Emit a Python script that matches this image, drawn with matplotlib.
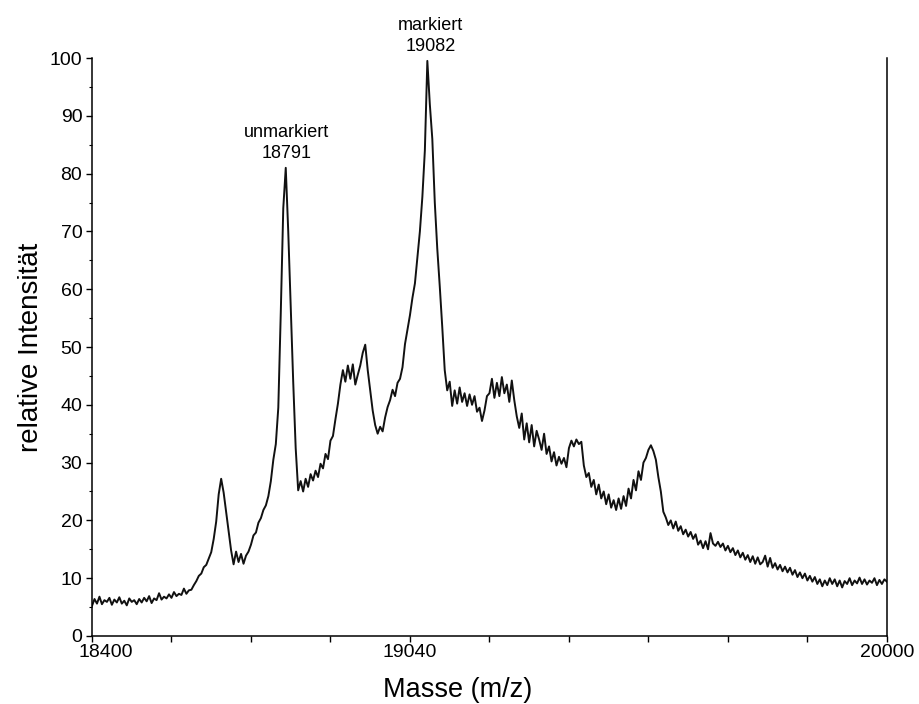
import numpy as np
import matplotlib
matplotlib.use("Agg")
import matplotlib.pyplot as plt
from matplotlib.ticker import MultipleLocator, FixedLocator, FixedFormatter
from matplotlib.transforms import ScaledTranslation

plt.rcParams['font.family'] = ['Liberation Sans', 'DejaVu Sans']

mass = np.arange(18400, 20001, 5)
intensity = [
    # 18400
    5.2, 6.4, 5.6, 6.8, 5.5, 6.2, 5.9, 6.6, 5.4, 6.3, 5.8, 6.7, 5.6, 6.1, 5.3, 6.5, 5.9, 6.2, 5.5, 6.4,
    # 18500
    5.8, 6.6, 6.0, 6.9, 5.7, 6.5, 6.2, 7.4, 6.3, 6.8, 6.5, 7.2, 6.6, 7.6, 6.9, 7.3, 7.1, 8.2, 7.3, 7.9,
    # 18600
    8.0, 8.8, 9.5, 10.4, 10.8, 11.9, 12.3, 13.4, 14.5, 16.8, 19.8, 24.5, 27.2, 24.8, 21.5, 18.2, 14.8, 12.4, 14.6, 12.8,
    # 18700
    14.2, 12.5, 13.9, 14.6, 15.8, 17.4, 17.9, 19.6, 20.4, 21.8, 22.6, 24.2, 26.8, 30.5, 33.2, 39.5, 56.0, 74.0, 81.0, 70.0,
    # 18800
    57.0, 44.0, 32.5, 25.2, 26.8, 25.0, 27.2, 25.8, 28.0, 26.9, 28.6, 27.5, 29.8, 29.0, 31.5, 30.6, 33.8, 34.6, 37.5, 40.2,
    # 18900
    43.5, 46.0, 44.0, 46.8, 44.5, 47.0, 43.5, 45.2, 46.8, 49.0, 50.4, 46.0, 42.5, 39.0, 36.5, 35.0, 36.2, 35.4, 37.8, 39.6,
    # 19000
    40.8, 42.6, 41.5, 43.8, 44.5, 46.5, 50.5, 53.0, 55.5, 58.5, 61.0, 65.5, 70.0, 76.0, 84.0, 99.5, 92.0, 86.0, 75.0, 67.0,
    # 19100
    60.5, 53.5, 46.0, 42.5, 44.0, 39.8, 42.5, 40.2, 43.0, 40.5, 42.0, 39.8, 41.8, 40.0, 41.5, 38.8, 39.5, 37.2, 39.0, 41.5,
    # 19200
    42.0, 44.5, 41.2, 43.8, 41.5, 44.8, 42.0, 43.5, 40.5, 44.2, 40.8, 38.0, 36.0, 38.5, 34.0, 36.8, 33.5, 36.5, 32.8, 35.5,
    # 19300
    34.0, 32.2, 35.0, 31.5, 32.8, 30.2, 31.8, 29.5, 31.0, 29.8, 30.8, 29.2, 32.5, 33.8, 32.8, 34.0, 33.2, 33.6, 29.5, 27.5,
    # 19400
    28.2, 25.8, 27.0, 24.5, 26.2, 23.8, 25.0, 22.8, 24.5, 22.2, 23.5, 21.8, 23.8, 22.0, 24.2, 22.5, 25.5, 23.8, 27.0, 25.2,
    # 19500
    28.5, 27.0, 30.0, 30.8, 32.2, 33.0, 32.0, 30.5, 27.5, 25.0, 21.5, 20.5, 19.2, 20.0, 18.6, 19.8, 18.2, 19.0, 17.6, 18.4,
    # 19600
    17.2, 18.0, 16.8, 17.6, 15.8, 16.5, 15.2, 16.4, 15.0, 17.8, 16.0, 15.6, 16.3, 15.4, 16.0, 14.8, 15.6, 14.5, 15.2, 14.0,
    # 19700
    14.8, 13.6, 14.4, 13.2, 14.0, 12.8, 13.8, 12.5, 13.6, 12.4, 12.8, 13.9, 12.0, 13.5, 11.8, 12.6, 11.5, 12.3, 11.2, 12.0,
    # 19800
    11.0, 11.8, 10.6, 11.4, 10.2, 11.0, 10.0, 10.8, 9.6, 10.4, 9.4, 10.2, 9.0, 9.8, 8.6, 9.6, 8.8, 10.0, 9.0, 9.8,
    # 19900
    8.6, 9.6, 8.4, 9.5, 9.0, 10.0, 8.8, 9.6, 9.1, 10.1, 9.0, 9.8, 8.9, 9.6, 9.2, 10.0, 8.8, 9.7, 9.0, 9.8, 9.4,
]

xtick_pos = [18400, 18560, 18720, 18880, 19040, 19200, 19360, 19520, 19680, 19840, 20000]
xtick_lbl = ["18400", "", "", "", "19040", "", "", "", "", "", "20000"]

peak_mass = [18791, 19082]
peak_top = [82, 100.5]
peak_name = ["unmarkiert", "markiert"]

fig = plt.figure(figsize=(9.2, 7.04), dpi=100)
ax = fig.add_axes([0.1, 0.0966, 0.864, 0.821])

ax.plot(mass, intensity, color="#111111", lw=1.4)

ax.set_xlim(18400, 20000)
ax.set_ylim(0, 100)

ax.spines['top'].set_visible(False)
for s in ['left', 'bottom', 'right']:
    ax.spines[s].set_linewidth(1.1)

ax.xaxis.set_major_locator(FixedLocator(xtick_pos))
ax.xaxis.set_major_formatter(FixedFormatter(xtick_lbl))
ax.yaxis.set_major_locator(MultipleLocator(10))
ax.yaxis.set_minor_locator(MultipleLocator(5))
ax.tick_params(axis='both', which='major', labelsize=14, direction='out', length=4, width=1)
ax.tick_params(axis='y', which='minor', direction='out', length=2.5, width=0.8)
ax.tick_params(axis='x', pad=2)
ax.tick_params(axis='y', pad=3)

# first x label sits a bit right of its tick in the original
lab0 = ax.xaxis.get_major_ticks()[0].label1
lab0.set_transform(lab0.get_transform() + ScaledTranslation(14 / 100, 0, fig.dpi_scale_trans))

ax.set_xlabel("Masse (m/z)", fontsize=19.5, x=0.46, labelpad=11)
ax.set_ylabel("relative Intensität", fontsize=20, labelpad=4)

for m, top, name in zip(peak_mass, peak_top, peak_name):
    ax.text(m, top, f"{name}\n{m}", ha="center", va="bottom", fontsize=13,
            linespacing=1.3, clip_on=False)

fig.savefig("out.png", dpi=100, facecolor="white")
